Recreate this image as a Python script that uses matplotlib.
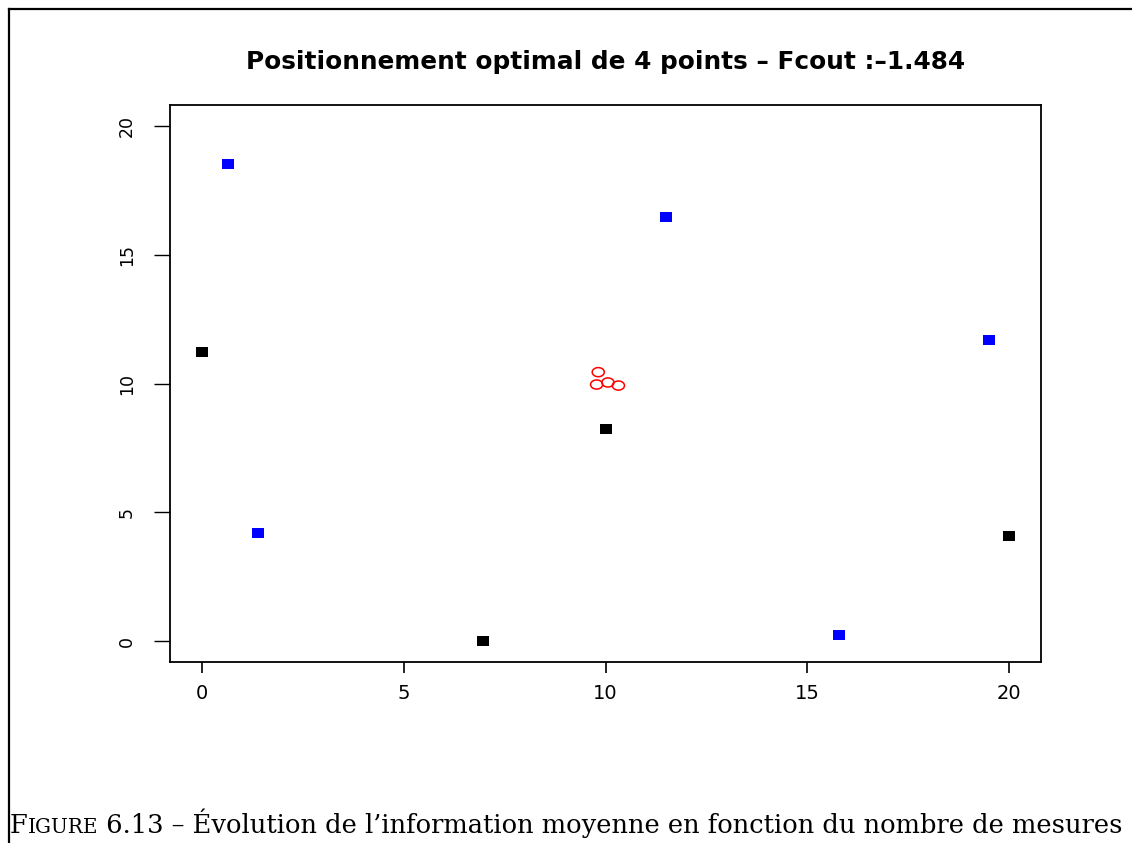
import matplotlib
matplotlib.use("Agg")
import matplotlib.pyplot as plt
from matplotlib.lines import Line2D
import numpy as np

# Data
black_x = [0.0, 10.02, 6.95, 20.0]
black_y = [11.24, 8.22, 0.0, 4.07]
blue_x = [0.645, 11.49, 1.39, 15.8, 19.5]
blue_y = [18.53, 16.47, 4.19, 0.23, 11.67]
red_x = [9.82, 9.78, 10.06, 10.32]
red_y = [10.44, 9.96, 10.04, 9.92]
ticks = [0, 5, 10, 15, 20]
title = "Positionnement optimal de 4 points – Fcout :–1.484"
caption_rest = " 6.13 – Évolution de l’information moyenne en fonction du nombre de mesures"

W, H = 1132, 843
fig = plt.figure(figsize=(W / 100, H / 100), dpi=100)
ax = fig.add_axes([170 / W, 1 - 662 / H, (1041 - 170) / W, (662 - 105) / H])

rect = [(-1.33, -1), (1.33, -1), (1.33, 1), (-1.33, 1), (-1.33, -1)]
ax.scatter(black_x, black_y, marker=rect, s=76, c="black", linewidths=0)
ax.scatter(blue_x, blue_y, marker=rect, s=76, c="blue", linewidths=0)
ell = [(1.33 * np.cos(t), np.sin(t)) for t in np.linspace(0, 2 * np.pi, 60)]
ax.scatter(red_x, red_y, marker=ell, s=76, facecolors="none", edgecolors="red", linewidths=1.1)

ax.set_xlim(-0.8, 20.8)
ax.set_ylim(-0.8, 20.8)
ax.set_xticks(ticks)
ax.set_yticks(ticks)
ax.set_xticklabels([str(t) for t in ticks], family="DejaVu Sans", fontsize=14)
ax.set_yticklabels([str(t) for t in ticks], family="DejaVu Sans", fontsize=12.5,
                   rotation=90, va="center")
ax.tick_params(axis="x", length=8, width=1.2, pad=8)
ax.tick_params(axis="y", length=11.5, width=1.0, pad=13)
for s in ax.spines.values():
    s.set_linewidth(1.3)

fig.canvas.draw()
r = fig.canvas.get_renderer()

# title, sized to the reference width
tt = fig.text(605.5 / W, 1 - 62 / H, title, ha="center", va="center",
              family="DejaVu Sans", fontweight="bold", fontsize=15)
w = tt.get_window_extent(r).width
tt.set_fontsize(15 * 719 / w)

# frame lines
fig.add_artist(Line2D([8.5 / W, 1], [1 - 9 / H, 1 - 9 / H], transform=fig.transFigure,
                      color="black", lw=1.6))
fig.add_artist(Line2D([8.5 / W, 8.5 / W], [0, 1 - 9 / H], transform=fig.transFigure,
                      color="black", lw=1.6))

# caption with small caps, fitted to the reference width
y0 = 1 - 833 / H


def place(fs):
    t1 = fig.text(10 / W, y0, "F", family="DejaVu Serif", fontsize=fs, va="baseline")
    e1 = t1.get_window_extent(r)
    t2 = fig.text(e1.x1 / W, y0, "IGURE", family="DejaVu Serif", fontsize=fs * 0.78, va="baseline")
    e2 = t2.get_window_extent(r)
    t3 = fig.text(e2.x1 / W, y0, caption_rest, family="DejaVu Serif", fontsize=fs, va="baseline")
    e3 = t3.get_window_extent(r)
    return (t1, t2, t3), e3.x1


ts, x1 = place(15)
for t in ts:
    t.remove()
fs = 15 * (1127 - 10) / (x1 - 10)
place(fs)

fig.savefig("out.png", dpi=100)
